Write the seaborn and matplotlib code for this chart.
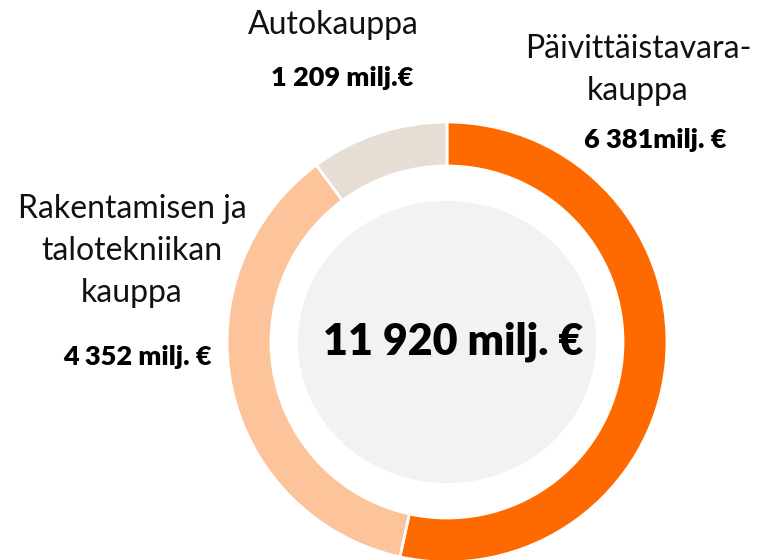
import matplotlib.pyplot as plt
import seaborn as sns
from matplotlib.patches import Ellipse

sns.set_theme(style="white")
plt.rcParams['font.family'] = ['Lato', 'DejaVu Sans']

# data
segments = ['Päivittäistavarakauppa', 'Rakentamisen ja talotekniikan kauppa', 'Autokauppa']
values = [6381, 4352, 1209]
value_labels = ['6 381milj. €', '4 352 milj. €', '1 209 milj.€']
name_labels = ['Päivittäistavara-\nkauppa', 'Rakentamisen ja\ntalotekniikan\nkauppa', 'Autokauppa']
total_label = '11 920 milj. €'
colors = ['#FF6A00', '#FDC49B', '#E6DED5']

W, H = 766, 560
fig = plt.figure(figsize=(W / 100, H / 100), dpi=100)
ax = fig.add_axes([0, 0, 1, 1])

cx, cy = 447, H - 342
ax.pie(values, colors=colors, startangle=90, counterclock=False,
       center=(cx, cy), radius=220,
       wedgeprops=dict(width=44, edgecolor='white', linewidth=2))
ax.add_patch(Ellipse((cx, cy), 297, 281, color='#F2F2F2', zorder=0))

ax.set_xlim(0, W)
ax.set_ylim(0, H)
ax.set_aspect('equal')
ax.axis('off')

ax.text(cx + 6, cy, total_label, ha='center', va='center',
        fontsize=31, fontweight='heavy', color='black')

# segment labels: (name x, name y, value x, value y) in pixels from top
pos = [(638, 70, 655, 140), (132, 251, 137, 357), (333, 25, 342, 78)]
for name, val, (nx, ny, vx, vy) in zip(name_labels, value_labels, pos):
    ax.text(nx, H - ny, name, ha='center', va='center', fontsize=23,
            fontweight='normal', color='#111111', linespacing=1.5)
    ax.text(vx, H - vy, val, ha='center', va='center', fontsize=19.5,
            fontweight='heavy', color='black')

fig.savefig('out.png', dpi=100, facecolor='white')
